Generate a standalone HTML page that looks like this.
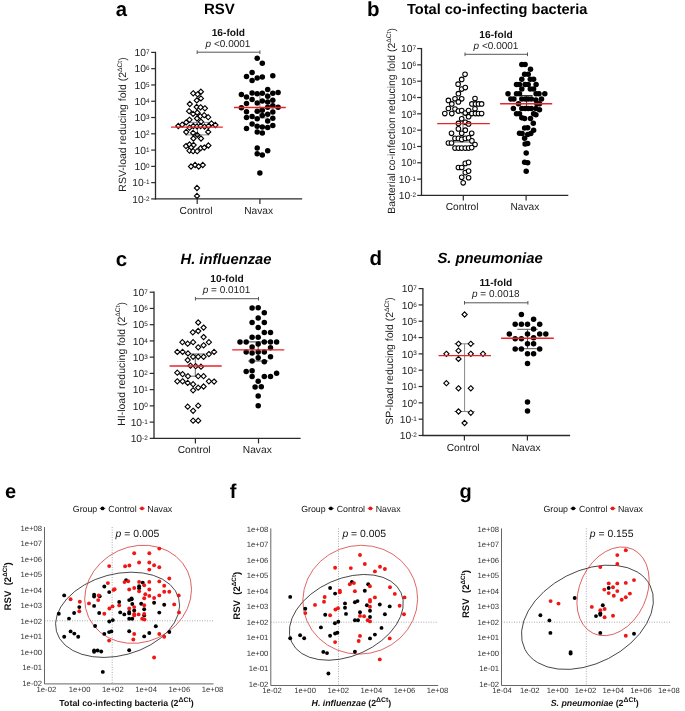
<!DOCTYPE html>
<html><head><meta charset="utf-8"><style>
html,body{margin:0;padding:0;background:#fff;}
svg{display:block;font-family:"Liberation Sans",sans-serif;will-change:transform;text-rendering:geometricPrecision;filter:blur(0.3px);}
</style></head><body>
<svg width="685" height="711" viewBox="0 0 685 711">
<rect width="685" height="711" fill="#fff"/>
<line x1="155.50" y1="51.80" x2="155.50" y2="199.50" stroke="#2a2a2a" stroke-width="1.3" />
<line x1="154.90" y1="198.90" x2="302.20" y2="198.90" stroke="#2a2a2a" stroke-width="1.3" />
<line x1="151.20" y1="52.40" x2="155.50" y2="52.40" stroke="#2a2a2a" stroke-width="1.2" />
<text x="149.50" y="56.10" font-size="10.3" text-anchor="end" font-weight="normal" font-style="normal" fill="#222" >10<tspan dy="-2.1" font-size="6.4">7</tspan></text>
<line x1="151.20" y1="68.68" x2="155.50" y2="68.68" stroke="#2a2a2a" stroke-width="1.2" />
<text x="149.50" y="72.38" font-size="10.3" text-anchor="end" font-weight="normal" font-style="normal" fill="#222" >10<tspan dy="-2.1" font-size="6.4">6</tspan></text>
<line x1="151.20" y1="84.96" x2="155.50" y2="84.96" stroke="#2a2a2a" stroke-width="1.2" />
<text x="149.50" y="88.66" font-size="10.3" text-anchor="end" font-weight="normal" font-style="normal" fill="#222" >10<tspan dy="-2.1" font-size="6.4">5</tspan></text>
<line x1="151.20" y1="101.24" x2="155.50" y2="101.24" stroke="#2a2a2a" stroke-width="1.2" />
<text x="149.50" y="104.94" font-size="10.3" text-anchor="end" font-weight="normal" font-style="normal" fill="#222" >10<tspan dy="-2.1" font-size="6.4">4</tspan></text>
<line x1="151.20" y1="117.52" x2="155.50" y2="117.52" stroke="#2a2a2a" stroke-width="1.2" />
<text x="149.50" y="121.22" font-size="10.3" text-anchor="end" font-weight="normal" font-style="normal" fill="#222" >10<tspan dy="-2.1" font-size="6.4">3</tspan></text>
<line x1="151.20" y1="133.80" x2="155.50" y2="133.80" stroke="#2a2a2a" stroke-width="1.2" />
<text x="149.50" y="137.50" font-size="10.3" text-anchor="end" font-weight="normal" font-style="normal" fill="#222" >10<tspan dy="-2.1" font-size="6.4">2</tspan></text>
<line x1="151.20" y1="150.08" x2="155.50" y2="150.08" stroke="#2a2a2a" stroke-width="1.2" />
<text x="149.50" y="153.78" font-size="10.3" text-anchor="end" font-weight="normal" font-style="normal" fill="#222" >10<tspan dy="-2.1" font-size="6.4">1</tspan></text>
<line x1="151.20" y1="166.36" x2="155.50" y2="166.36" stroke="#2a2a2a" stroke-width="1.2" />
<text x="149.50" y="170.06" font-size="10.3" text-anchor="end" font-weight="normal" font-style="normal" fill="#222" >10<tspan dy="-2.1" font-size="6.4">0</tspan></text>
<line x1="151.20" y1="182.64" x2="155.50" y2="182.64" stroke="#2a2a2a" stroke-width="1.2" />
<text x="149.50" y="186.34" font-size="10.3" text-anchor="end" font-weight="normal" font-style="normal" fill="#222" >10<tspan dy="-2.1" font-size="6.4">-1</tspan></text>
<line x1="151.20" y1="198.92" x2="155.50" y2="198.92" stroke="#2a2a2a" stroke-width="1.2" />
<text x="149.50" y="202.62" font-size="10.3" text-anchor="end" font-weight="normal" font-style="normal" fill="#222" >10<tspan dy="-2.1" font-size="6.4">-2</tspan></text>
<line x1="197.20" y1="198.90" x2="197.20" y2="203.90" stroke="#2a2a2a" stroke-width="1.2" />
<text x="196.00" y="213.90" font-size="10.2" text-anchor="middle" font-weight="normal" font-style="normal" fill="#1a1a1a" >Control</text>
<line x1="259.90" y1="198.90" x2="259.90" y2="203.90" stroke="#2a2a2a" stroke-width="1.2" />
<text x="258.70" y="213.90" font-size="10.2" text-anchor="middle" font-weight="normal" font-style="normal" fill="#1a1a1a" >Navax</text>
<text x="0" y="0" font-size="10.5" text-anchor="middle" fill="#1a1a1a" transform="translate(126.00,124.50) rotate(-90)">RSV-load reducing fold (2<tspan dy="-4.2" font-size="6.7">ΔCt</tspan><tspan dy="4.2">)</tspan></text>
<line x1="197.20" y1="52.20" x2="259.90" y2="52.20" stroke="#555" stroke-width="1.0" />
<line x1="197.20" y1="50.40" x2="197.20" y2="54.00" stroke="#555" stroke-width="1.0" />
<line x1="259.90" y1="50.40" x2="259.90" y2="54.00" stroke="#555" stroke-width="1.0" />
<text x="228.40" y="35.50" font-size="10.2" text-anchor="middle" font-weight="bold" font-style="normal" fill="#111" >16-fold</text>
<text x="228.00" y="46.90" font-size="10" text-anchor="middle" font-weight="normal" font-style="normal" fill="#222" ><tspan font-style="italic">p</tspan> &lt;0.0001</text>
<line x1="421.50" y1="47.95" x2="421.50" y2="196.00" stroke="#2a2a2a" stroke-width="1.3" />
<line x1="420.90" y1="195.40" x2="568.30" y2="195.40" stroke="#2a2a2a" stroke-width="1.3" />
<line x1="417.20" y1="48.55" x2="421.50" y2="48.55" stroke="#2a2a2a" stroke-width="1.2" />
<text x="416.00" y="52.25" font-size="10.3" text-anchor="end" font-weight="normal" font-style="normal" fill="#222" >10<tspan dy="-2.1" font-size="6.4">7</tspan></text>
<line x1="417.20" y1="64.87" x2="421.50" y2="64.87" stroke="#2a2a2a" stroke-width="1.2" />
<text x="416.00" y="68.57" font-size="10.3" text-anchor="end" font-weight="normal" font-style="normal" fill="#222" >10<tspan dy="-2.1" font-size="6.4">6</tspan></text>
<line x1="417.20" y1="81.19" x2="421.50" y2="81.19" stroke="#2a2a2a" stroke-width="1.2" />
<text x="416.00" y="84.89" font-size="10.3" text-anchor="end" font-weight="normal" font-style="normal" fill="#222" >10<tspan dy="-2.1" font-size="6.4">5</tspan></text>
<line x1="417.20" y1="97.51" x2="421.50" y2="97.51" stroke="#2a2a2a" stroke-width="1.2" />
<text x="416.00" y="101.21" font-size="10.3" text-anchor="end" font-weight="normal" font-style="normal" fill="#222" >10<tspan dy="-2.1" font-size="6.4">4</tspan></text>
<line x1="417.20" y1="113.83" x2="421.50" y2="113.83" stroke="#2a2a2a" stroke-width="1.2" />
<text x="416.00" y="117.53" font-size="10.3" text-anchor="end" font-weight="normal" font-style="normal" fill="#222" >10<tspan dy="-2.1" font-size="6.4">3</tspan></text>
<line x1="417.20" y1="130.15" x2="421.50" y2="130.15" stroke="#2a2a2a" stroke-width="1.2" />
<text x="416.00" y="133.85" font-size="10.3" text-anchor="end" font-weight="normal" font-style="normal" fill="#222" >10<tspan dy="-2.1" font-size="6.4">2</tspan></text>
<line x1="417.20" y1="146.47" x2="421.50" y2="146.47" stroke="#2a2a2a" stroke-width="1.2" />
<text x="416.00" y="150.17" font-size="10.3" text-anchor="end" font-weight="normal" font-style="normal" fill="#222" >10<tspan dy="-2.1" font-size="6.4">1</tspan></text>
<line x1="417.20" y1="162.79" x2="421.50" y2="162.79" stroke="#2a2a2a" stroke-width="1.2" />
<text x="416.00" y="166.49" font-size="10.3" text-anchor="end" font-weight="normal" font-style="normal" fill="#222" >10<tspan dy="-2.1" font-size="6.4">0</tspan></text>
<line x1="417.20" y1="179.11" x2="421.50" y2="179.11" stroke="#2a2a2a" stroke-width="1.2" />
<text x="416.00" y="182.81" font-size="10.3" text-anchor="end" font-weight="normal" font-style="normal" fill="#222" >10<tspan dy="-2.1" font-size="6.4">-1</tspan></text>
<line x1="417.20" y1="195.43" x2="421.50" y2="195.43" stroke="#2a2a2a" stroke-width="1.2" />
<text x="416.00" y="199.13" font-size="10.3" text-anchor="end" font-weight="normal" font-style="normal" fill="#222" >10<tspan dy="-2.1" font-size="6.4">-2</tspan></text>
<line x1="463.30" y1="195.40" x2="463.30" y2="200.40" stroke="#2a2a2a" stroke-width="1.2" />
<text x="462.10" y="210.40" font-size="10.2" text-anchor="middle" font-weight="normal" font-style="normal" fill="#1a1a1a" >Control</text>
<line x1="526.10" y1="195.40" x2="526.10" y2="200.40" stroke="#2a2a2a" stroke-width="1.2" />
<text x="524.90" y="210.40" font-size="10.2" text-anchor="middle" font-weight="normal" font-style="normal" fill="#1a1a1a" >Navax</text>
<text x="0" y="0" font-size="10.4" text-anchor="middle" fill="#1a1a1a" transform="translate(394.70,120.90) rotate(-90)">Bacterial co-infection reducing fold (2<tspan dy="-4.2" font-size="6.7">ΔCt</tspan><tspan dy="4.2">)</tspan></text>
<line x1="465.00" y1="54.30" x2="527.50" y2="54.30" stroke="#555" stroke-width="1.0" />
<line x1="465.00" y1="52.50" x2="465.00" y2="56.10" stroke="#555" stroke-width="1.0" />
<line x1="527.50" y1="52.50" x2="527.50" y2="56.10" stroke="#555" stroke-width="1.0" />
<text x="496.00" y="38.00" font-size="10.2" text-anchor="middle" font-weight="bold" font-style="normal" fill="#111" >16-fold</text>
<text x="496.00" y="49.00" font-size="10" text-anchor="middle" font-weight="normal" font-style="normal" fill="#222" ><tspan font-style="italic">p</tspan> &lt;0.0001</text>
<line x1="154.00" y1="291.60" x2="154.00" y2="439.00" stroke="#2a2a2a" stroke-width="1.3" />
<line x1="153.40" y1="438.40" x2="300.60" y2="438.40" stroke="#2a2a2a" stroke-width="1.3" />
<line x1="149.70" y1="292.20" x2="154.00" y2="292.20" stroke="#2a2a2a" stroke-width="1.2" />
<text x="147.80" y="295.90" font-size="10.3" text-anchor="end" font-weight="normal" font-style="normal" fill="#222" >10<tspan dy="-2.1" font-size="6.4">7</tspan></text>
<line x1="149.70" y1="308.44" x2="154.00" y2="308.44" stroke="#2a2a2a" stroke-width="1.2" />
<text x="147.80" y="312.14" font-size="10.3" text-anchor="end" font-weight="normal" font-style="normal" fill="#222" >10<tspan dy="-2.1" font-size="6.4">6</tspan></text>
<line x1="149.70" y1="324.68" x2="154.00" y2="324.68" stroke="#2a2a2a" stroke-width="1.2" />
<text x="147.80" y="328.38" font-size="10.3" text-anchor="end" font-weight="normal" font-style="normal" fill="#222" >10<tspan dy="-2.1" font-size="6.4">5</tspan></text>
<line x1="149.70" y1="340.92" x2="154.00" y2="340.92" stroke="#2a2a2a" stroke-width="1.2" />
<text x="147.80" y="344.62" font-size="10.3" text-anchor="end" font-weight="normal" font-style="normal" fill="#222" >10<tspan dy="-2.1" font-size="6.4">4</tspan></text>
<line x1="149.70" y1="357.16" x2="154.00" y2="357.16" stroke="#2a2a2a" stroke-width="1.2" />
<text x="147.80" y="360.86" font-size="10.3" text-anchor="end" font-weight="normal" font-style="normal" fill="#222" >10<tspan dy="-2.1" font-size="6.4">3</tspan></text>
<line x1="149.70" y1="373.40" x2="154.00" y2="373.40" stroke="#2a2a2a" stroke-width="1.2" />
<text x="147.80" y="377.10" font-size="10.3" text-anchor="end" font-weight="normal" font-style="normal" fill="#222" >10<tspan dy="-2.1" font-size="6.4">2</tspan></text>
<line x1="149.70" y1="389.64" x2="154.00" y2="389.64" stroke="#2a2a2a" stroke-width="1.2" />
<text x="147.80" y="393.34" font-size="10.3" text-anchor="end" font-weight="normal" font-style="normal" fill="#222" >10<tspan dy="-2.1" font-size="6.4">1</tspan></text>
<line x1="149.70" y1="405.88" x2="154.00" y2="405.88" stroke="#2a2a2a" stroke-width="1.2" />
<text x="147.80" y="409.58" font-size="10.3" text-anchor="end" font-weight="normal" font-style="normal" fill="#222" >10<tspan dy="-2.1" font-size="6.4">0</tspan></text>
<line x1="149.70" y1="422.12" x2="154.00" y2="422.12" stroke="#2a2a2a" stroke-width="1.2" />
<text x="147.80" y="425.82" font-size="10.3" text-anchor="end" font-weight="normal" font-style="normal" fill="#222" >10<tspan dy="-2.1" font-size="6.4">-1</tspan></text>
<line x1="149.70" y1="438.36" x2="154.00" y2="438.36" stroke="#2a2a2a" stroke-width="1.2" />
<text x="147.80" y="442.06" font-size="10.3" text-anchor="end" font-weight="normal" font-style="normal" fill="#222" >10<tspan dy="-2.1" font-size="6.4">-2</tspan></text>
<line x1="195.40" y1="438.40" x2="195.40" y2="443.40" stroke="#2a2a2a" stroke-width="1.2" />
<text x="194.20" y="453.40" font-size="10.2" text-anchor="middle" font-weight="normal" font-style="normal" fill="#1a1a1a" >Control</text>
<line x1="258.50" y1="438.40" x2="258.50" y2="443.40" stroke="#2a2a2a" stroke-width="1.2" />
<text x="257.30" y="453.40" font-size="10.2" text-anchor="middle" font-weight="normal" font-style="normal" fill="#1a1a1a" >Navax</text>
<text x="0" y="0" font-size="10.5" text-anchor="middle" fill="#1a1a1a" transform="translate(124.50,363.90) rotate(-90)">HI-load reducing fold (2<tspan dy="-4.2" font-size="6.7">ΔCt</tspan><tspan dy="4.2">)</tspan></text>
<line x1="195.40" y1="298.70" x2="258.50" y2="298.70" stroke="#555" stroke-width="1.0" />
<line x1="195.40" y1="296.90" x2="195.40" y2="300.50" stroke="#555" stroke-width="1.0" />
<line x1="258.50" y1="296.90" x2="258.50" y2="300.50" stroke="#555" stroke-width="1.0" />
<text x="227.00" y="281.50" font-size="10.2" text-anchor="middle" font-weight="bold" font-style="normal" fill="#111" >10-fold</text>
<text x="226.50" y="293.20" font-size="10" text-anchor="middle" font-weight="normal" font-style="normal" fill="#222" ><tspan font-style="italic">p</tspan> = 0.0101</text>
<line x1="422.90" y1="288.00" x2="422.90" y2="436.10" stroke="#2a2a2a" stroke-width="1.3" />
<line x1="422.30" y1="435.50" x2="570.10" y2="435.50" stroke="#2a2a2a" stroke-width="1.3" />
<line x1="418.60" y1="288.60" x2="422.90" y2="288.60" stroke="#2a2a2a" stroke-width="1.2" />
<text x="416.90" y="292.30" font-size="10.3" text-anchor="end" font-weight="normal" font-style="normal" fill="#222" >10<tspan dy="-2.1" font-size="6.4">7</tspan></text>
<line x1="418.60" y1="304.92" x2="422.90" y2="304.92" stroke="#2a2a2a" stroke-width="1.2" />
<text x="416.90" y="308.62" font-size="10.3" text-anchor="end" font-weight="normal" font-style="normal" fill="#222" >10<tspan dy="-2.1" font-size="6.4">6</tspan></text>
<line x1="418.60" y1="321.24" x2="422.90" y2="321.24" stroke="#2a2a2a" stroke-width="1.2" />
<text x="416.90" y="324.94" font-size="10.3" text-anchor="end" font-weight="normal" font-style="normal" fill="#222" >10<tspan dy="-2.1" font-size="6.4">5</tspan></text>
<line x1="418.60" y1="337.56" x2="422.90" y2="337.56" stroke="#2a2a2a" stroke-width="1.2" />
<text x="416.90" y="341.26" font-size="10.3" text-anchor="end" font-weight="normal" font-style="normal" fill="#222" >10<tspan dy="-2.1" font-size="6.4">4</tspan></text>
<line x1="418.60" y1="353.88" x2="422.90" y2="353.88" stroke="#2a2a2a" stroke-width="1.2" />
<text x="416.90" y="357.58" font-size="10.3" text-anchor="end" font-weight="normal" font-style="normal" fill="#222" >10<tspan dy="-2.1" font-size="6.4">3</tspan></text>
<line x1="418.60" y1="370.20" x2="422.90" y2="370.20" stroke="#2a2a2a" stroke-width="1.2" />
<text x="416.90" y="373.90" font-size="10.3" text-anchor="end" font-weight="normal" font-style="normal" fill="#222" >10<tspan dy="-2.1" font-size="6.4">2</tspan></text>
<line x1="418.60" y1="386.52" x2="422.90" y2="386.52" stroke="#2a2a2a" stroke-width="1.2" />
<text x="416.90" y="390.22" font-size="10.3" text-anchor="end" font-weight="normal" font-style="normal" fill="#222" >10<tspan dy="-2.1" font-size="6.4">1</tspan></text>
<line x1="418.60" y1="402.84" x2="422.90" y2="402.84" stroke="#2a2a2a" stroke-width="1.2" />
<text x="416.90" y="406.54" font-size="10.3" text-anchor="end" font-weight="normal" font-style="normal" fill="#222" >10<tspan dy="-2.1" font-size="6.4">0</tspan></text>
<line x1="418.60" y1="419.16" x2="422.90" y2="419.16" stroke="#2a2a2a" stroke-width="1.2" />
<text x="416.90" y="422.86" font-size="10.3" text-anchor="end" font-weight="normal" font-style="normal" fill="#222" >10<tspan dy="-2.1" font-size="6.4">-1</tspan></text>
<line x1="418.60" y1="435.48" x2="422.90" y2="435.48" stroke="#2a2a2a" stroke-width="1.2" />
<text x="416.90" y="439.18" font-size="10.3" text-anchor="end" font-weight="normal" font-style="normal" fill="#222" >10<tspan dy="-2.1" font-size="6.4">-2</tspan></text>
<line x1="464.40" y1="435.50" x2="464.40" y2="440.50" stroke="#2a2a2a" stroke-width="1.2" />
<text x="463.20" y="450.50" font-size="10.2" text-anchor="middle" font-weight="normal" font-style="normal" fill="#1a1a1a" >Control</text>
<line x1="527.40" y1="435.50" x2="527.40" y2="440.50" stroke="#2a2a2a" stroke-width="1.2" />
<text x="526.20" y="450.50" font-size="10.2" text-anchor="middle" font-weight="normal" font-style="normal" fill="#1a1a1a" >Navax</text>
<text x="0" y="0" font-size="10.5" text-anchor="middle" fill="#1a1a1a" transform="translate(393.10,361.00) rotate(-90)">SP-load reducing fold (2<tspan dy="-4.2" font-size="6.7">ΔCt</tspan><tspan dy="4.2">)</tspan></text>
<line x1="464.50" y1="302.80" x2="527.90" y2="302.80" stroke="#555" stroke-width="1.0" />
<line x1="464.50" y1="301.00" x2="464.50" y2="304.60" stroke="#555" stroke-width="1.0" />
<line x1="527.90" y1="301.00" x2="527.90" y2="304.60" stroke="#555" stroke-width="1.0" />
<text x="495.80" y="286.10" font-size="10.2" text-anchor="middle" font-weight="bold" font-style="normal" fill="#111" >11-fold</text>
<text x="495.80" y="297.00" font-size="10" text-anchor="middle" font-weight="normal" font-style="normal" fill="#222" ><tspan font-style="italic">p</tspan> = 0.0018</text>
<text x="115.80" y="16.00" font-size="20.3" text-anchor="start" font-weight="bold" font-style="normal" fill="#000" >a</text>
<text x="219.40" y="14.00" font-size="15" text-anchor="middle" font-weight="bold" font-style="normal" fill="#000" >RSV</text>
<text x="367.00" y="15.50" font-size="20.5" text-anchor="start" font-weight="bold" font-style="normal" fill="#000" >b</text>
<text x="497.20" y="14.00" font-size="14.6" text-anchor="middle" font-weight="bold" font-style="normal" fill="#000" >Total co-infecting bacteria</text>
<text x="115.80" y="265.50" font-size="20.5" text-anchor="start" font-weight="bold" font-style="normal" fill="#000" >c</text>
<text x="180.50" y="263.60" font-size="14.75" text-anchor="start" font-weight="bold" font-style="italic" fill="#000" >H. influenzae</text>
<text x="369.50" y="264.80" font-size="20.5" text-anchor="start" font-weight="bold" font-style="normal" fill="#000" >d</text>
<text x="437.40" y="262.80" font-size="14.8" text-anchor="start" font-weight="bold" font-style="italic" fill="#000" >S. pneumoniae</text>
<line x1="44.50" y1="527.00" x2="44.50" y2="683.90" stroke="#555" stroke-width="0.9" />
<line x1="44.50" y1="683.90" x2="213.50" y2="683.90" stroke="#555" stroke-width="0.9" />
<text x="42.00" y="530.55" font-size="7.7" text-anchor="end" font-weight="normal" font-style="normal" fill="#333" >1e+08</text>
<text x="42.00" y="546.05" font-size="7.7" text-anchor="end" font-weight="normal" font-style="normal" fill="#333" >1e+07</text>
<text x="42.00" y="561.55" font-size="7.7" text-anchor="end" font-weight="normal" font-style="normal" fill="#333" >1e+06</text>
<text x="42.00" y="577.05" font-size="7.7" text-anchor="end" font-weight="normal" font-style="normal" fill="#333" >1e+05</text>
<text x="42.00" y="592.55" font-size="7.7" text-anchor="end" font-weight="normal" font-style="normal" fill="#333" >1e+04</text>
<text x="42.00" y="608.05" font-size="7.7" text-anchor="end" font-weight="normal" font-style="normal" fill="#333" >1e+03</text>
<text x="42.00" y="623.55" font-size="7.7" text-anchor="end" font-weight="normal" font-style="normal" fill="#333" >1e+02</text>
<text x="42.00" y="639.05" font-size="7.7" text-anchor="end" font-weight="normal" font-style="normal" fill="#333" >1e+01</text>
<text x="42.00" y="654.55" font-size="7.7" text-anchor="end" font-weight="normal" font-style="normal" fill="#333" >1e+00</text>
<text x="42.00" y="670.05" font-size="7.7" text-anchor="end" font-weight="normal" font-style="normal" fill="#333" >1e-01</text>
<text x="42.00" y="685.55" font-size="7.7" text-anchor="end" font-weight="normal" font-style="normal" fill="#333" >1e-02</text>
<text x="46.40" y="691.80" font-size="7.7" text-anchor="middle" font-weight="normal" font-style="normal" fill="#333" >1e-02</text>
<text x="79.64" y="691.80" font-size="7.7" text-anchor="middle" font-weight="normal" font-style="normal" fill="#333" >1e+00</text>
<text x="112.88" y="691.80" font-size="7.7" text-anchor="middle" font-weight="normal" font-style="normal" fill="#333" >1e+02</text>
<text x="146.12" y="691.80" font-size="7.7" text-anchor="middle" font-weight="normal" font-style="normal" fill="#333" >1e+04</text>
<text x="179.36" y="691.80" font-size="7.7" text-anchor="middle" font-weight="normal" font-style="normal" fill="#333" >1e+06</text>
<text x="212.60" y="691.80" font-size="7.7" text-anchor="middle" font-weight="normal" font-style="normal" fill="#333" >1e+08</text>
<line x1="112.20" y1="527.00" x2="112.20" y2="683.90" stroke="#888" stroke-width="0.7" stroke-dasharray="1,1.5"/>
<line x1="44.50" y1="620.80" x2="213.50" y2="620.80" stroke="#888" stroke-width="0.7" stroke-dasharray="1,1.5"/>
<text x="5.00" y="498.40" font-size="20" text-anchor="start" font-weight="bold" font-style="normal" fill="#000" >e</text>
<text x="72.80" y="511.50" font-size="8.8" text-anchor="start" font-weight="normal" font-style="normal" fill="#111" >Group</text>
<text x="108.30" y="511.50" font-size="8.8" text-anchor="start" font-weight="normal" font-style="normal" fill="#111" >Control</text>
<text x="147.30" y="511.50" font-size="8.8" text-anchor="start" font-weight="normal" font-style="normal" fill="#111" >Navax</text>
<circle cx="102.50" cy="508.4" r="1.9" fill="#000"/>
<line x1="99.80" y1="508.40" x2="105.30" y2="508.40" stroke="#000" stroke-width="0.8" />
<circle cx="142.00" cy="508.4" r="1.9" fill="#e41a1c"/>
<line x1="139.30" y1="508.40" x2="144.80" y2="508.40" stroke="#e41a1c" stroke-width="0.8" />
<text x="115.60" y="536.50" font-size="10.4" text-anchor="start" font-weight="normal" font-style="normal" fill="#111" ><tspan font-style="italic">p</tspan> = 0.005</text>
<text x="0" y="0" font-size="9.6" font-weight="bold" text-anchor="middle" fill="#111" transform="translate(11.20,586.40) rotate(-90)">RSV&#160; (2<tspan dy="-4" font-size="6.3">ΔCt</tspan><tspan dy="4">)</tspan></text>
<text x="126.50" y="706.30" font-size="8.8" text-anchor="middle" font-weight="bold" font-style="normal" fill="#111" >Total co-infecting bacteria (2<tspan dy="-4.2" font-size="6.9">ΔCt</tspan><tspan dy="4.2">)</tspan></text>
<line x1="270.80" y1="528.40" x2="270.80" y2="685.50" stroke="#555" stroke-width="0.9" />
<line x1="270.80" y1="685.50" x2="438.20" y2="685.50" stroke="#555" stroke-width="0.9" />
<text x="268.30" y="531.95" font-size="7.7" text-anchor="end" font-weight="normal" font-style="normal" fill="#333" >1e+08</text>
<text x="268.30" y="547.45" font-size="7.7" text-anchor="end" font-weight="normal" font-style="normal" fill="#333" >1e+07</text>
<text x="268.30" y="562.95" font-size="7.7" text-anchor="end" font-weight="normal" font-style="normal" fill="#333" >1e+06</text>
<text x="268.30" y="578.45" font-size="7.7" text-anchor="end" font-weight="normal" font-style="normal" fill="#333" >1e+05</text>
<text x="268.30" y="593.95" font-size="7.7" text-anchor="end" font-weight="normal" font-style="normal" fill="#333" >1e+04</text>
<text x="268.30" y="609.45" font-size="7.7" text-anchor="end" font-weight="normal" font-style="normal" fill="#333" >1e+03</text>
<text x="268.30" y="624.95" font-size="7.7" text-anchor="end" font-weight="normal" font-style="normal" fill="#333" >1e+02</text>
<text x="268.30" y="640.45" font-size="7.7" text-anchor="end" font-weight="normal" font-style="normal" fill="#333" >1e+01</text>
<text x="268.30" y="655.95" font-size="7.7" text-anchor="end" font-weight="normal" font-style="normal" fill="#333" >1e+00</text>
<text x="268.30" y="671.45" font-size="7.7" text-anchor="end" font-weight="normal" font-style="normal" fill="#333" >1e-01</text>
<text x="268.30" y="686.95" font-size="7.7" text-anchor="end" font-weight="normal" font-style="normal" fill="#333" >1e-02</text>
<text x="272.00" y="693.40" font-size="7.7" text-anchor="middle" font-weight="normal" font-style="normal" fill="#333" >1e-02</text>
<text x="305.12" y="693.40" font-size="7.7" text-anchor="middle" font-weight="normal" font-style="normal" fill="#333" >1e+00</text>
<text x="338.24" y="693.40" font-size="7.7" text-anchor="middle" font-weight="normal" font-style="normal" fill="#333" >1e+02</text>
<text x="371.36" y="693.40" font-size="7.7" text-anchor="middle" font-weight="normal" font-style="normal" fill="#333" >1e+04</text>
<text x="404.48" y="693.40" font-size="7.7" text-anchor="middle" font-weight="normal" font-style="normal" fill="#333" >1e+06</text>
<text x="437.60" y="693.40" font-size="7.7" text-anchor="middle" font-weight="normal" font-style="normal" fill="#333" >1e+08</text>
<line x1="338.50" y1="528.40" x2="338.50" y2="685.50" stroke="#888" stroke-width="0.7" stroke-dasharray="1,1.5"/>
<line x1="270.80" y1="622.20" x2="438.20" y2="622.20" stroke="#888" stroke-width="0.7" stroke-dasharray="1,1.5"/>
<text x="229.80" y="498.40" font-size="20" text-anchor="start" font-weight="bold" font-style="normal" fill="#000" >f</text>
<text x="301.20" y="511.50" font-size="8.8" text-anchor="start" font-weight="normal" font-style="normal" fill="#111" >Group</text>
<text x="336.70" y="511.50" font-size="8.8" text-anchor="start" font-weight="normal" font-style="normal" fill="#111" >Control</text>
<text x="375.70" y="511.50" font-size="8.8" text-anchor="start" font-weight="normal" font-style="normal" fill="#111" >Navax</text>
<circle cx="330.90" cy="508.4" r="1.9" fill="#000"/>
<line x1="328.20" y1="508.40" x2="333.70" y2="508.40" stroke="#000" stroke-width="0.8" />
<circle cx="370.40" cy="508.4" r="1.9" fill="#e41a1c"/>
<line x1="367.70" y1="508.40" x2="373.20" y2="508.40" stroke="#e41a1c" stroke-width="0.8" />
<text x="342.40" y="536.50" font-size="10.4" text-anchor="start" font-weight="normal" font-style="normal" fill="#111" ><tspan font-style="italic">p</tspan> = 0.005</text>
<text x="0" y="0" font-size="9.6" font-weight="bold" text-anchor="middle" fill="#111" transform="translate(240.20,595.80) rotate(-90)">RSV&#160; (2<tspan dy="-4" font-size="6.3">ΔCt</tspan><tspan dy="4">)</tspan></text>
<text x="351.40" y="706.30" font-size="8.8" text-anchor="middle" font-weight="bold" font-style="normal" fill="#111" ><tspan font-style="italic">H. influenzae</tspan> (2<tspan dy="-4.2" font-size="6.9">ΔCt</tspan><tspan dy="4.2">)</tspan></text>
<line x1="501.50" y1="528.40" x2="501.50" y2="685.50" stroke="#555" stroke-width="0.9" />
<line x1="501.50" y1="685.50" x2="670.50" y2="685.50" stroke="#555" stroke-width="0.9" />
<text x="499.00" y="531.95" font-size="7.7" text-anchor="end" font-weight="normal" font-style="normal" fill="#333" >1e+08</text>
<text x="499.00" y="547.45" font-size="7.7" text-anchor="end" font-weight="normal" font-style="normal" fill="#333" >1e+07</text>
<text x="499.00" y="562.95" font-size="7.7" text-anchor="end" font-weight="normal" font-style="normal" fill="#333" >1e+06</text>
<text x="499.00" y="578.45" font-size="7.7" text-anchor="end" font-weight="normal" font-style="normal" fill="#333" >1e+05</text>
<text x="499.00" y="593.95" font-size="7.7" text-anchor="end" font-weight="normal" font-style="normal" fill="#333" >1e+04</text>
<text x="499.00" y="609.45" font-size="7.7" text-anchor="end" font-weight="normal" font-style="normal" fill="#333" >1e+03</text>
<text x="499.00" y="624.95" font-size="7.7" text-anchor="end" font-weight="normal" font-style="normal" fill="#333" >1e+02</text>
<text x="499.00" y="640.45" font-size="7.7" text-anchor="end" font-weight="normal" font-style="normal" fill="#333" >1e+01</text>
<text x="499.00" y="655.95" font-size="7.7" text-anchor="end" font-weight="normal" font-style="normal" fill="#333" >1e+00</text>
<text x="499.00" y="671.45" font-size="7.7" text-anchor="end" font-weight="normal" font-style="normal" fill="#333" >1e-01</text>
<text x="499.00" y="686.95" font-size="7.7" text-anchor="end" font-weight="normal" font-style="normal" fill="#333" >1e-02</text>
<text x="502.00" y="693.40" font-size="7.7" text-anchor="middle" font-weight="normal" font-style="normal" fill="#333" >1e-04</text>
<text x="529.82" y="693.40" font-size="7.7" text-anchor="middle" font-weight="normal" font-style="normal" fill="#333" >1e-02</text>
<text x="557.63" y="693.40" font-size="7.7" text-anchor="middle" font-weight="normal" font-style="normal" fill="#333" >1e+00</text>
<text x="585.45" y="693.40" font-size="7.7" text-anchor="middle" font-weight="normal" font-style="normal" fill="#333" >1e+02</text>
<text x="613.27" y="693.40" font-size="7.7" text-anchor="middle" font-weight="normal" font-style="normal" fill="#333" >1e+04</text>
<text x="641.08" y="693.40" font-size="7.7" text-anchor="middle" font-weight="normal" font-style="normal" fill="#333" >1e+06</text>
<text x="668.90" y="693.40" font-size="7.7" text-anchor="middle" font-weight="normal" font-style="normal" fill="#333" >1e+08</text>
<line x1="586.30" y1="528.40" x2="586.30" y2="685.50" stroke="#888" stroke-width="0.7" stroke-dasharray="1,1.5"/>
<line x1="501.50" y1="622.20" x2="670.50" y2="622.20" stroke="#888" stroke-width="0.7" stroke-dasharray="1,1.5"/>
<text x="459.50" y="498.40" font-size="20" text-anchor="start" font-weight="bold" font-style="normal" fill="#000" >g</text>
<text x="543.50" y="511.50" font-size="8.8" text-anchor="start" font-weight="normal" font-style="normal" fill="#111" >Group</text>
<text x="579.00" y="511.50" font-size="8.8" text-anchor="start" font-weight="normal" font-style="normal" fill="#111" >Control</text>
<text x="618.00" y="511.50" font-size="8.8" text-anchor="start" font-weight="normal" font-style="normal" fill="#111" >Navax</text>
<circle cx="573.20" cy="508.4" r="1.9" fill="#000"/>
<line x1="570.50" y1="508.40" x2="576.00" y2="508.40" stroke="#000" stroke-width="0.8" />
<circle cx="612.70" cy="508.4" r="1.9" fill="#e41a1c"/>
<line x1="610.00" y1="508.40" x2="615.50" y2="508.40" stroke="#e41a1c" stroke-width="0.8" />
<text x="589.80" y="536.50" font-size="10.4" text-anchor="start" font-weight="normal" font-style="normal" fill="#111" ><tspan font-style="italic">p</tspan> = 0.155</text>
<text x="0" y="0" font-size="9.6" font-weight="bold" text-anchor="middle" fill="#111" transform="translate(469.00,594.10) rotate(-90)">RSV&#160; (2<tspan dy="-4" font-size="6.3">ΔCt</tspan><tspan dy="4">)</tspan></text>
<text x="594.70" y="706.30" font-size="8.8" text-anchor="middle" font-weight="bold" font-style="normal" fill="#111" ><tspan font-style="italic">S. pneumoniae</tspan> (2<tspan dy="-4.2" font-size="6.9">ΔCt</tspan><tspan dy="4.2">)</tspan></text>
<line x1="197.50" y1="122.40" x2="197.50" y2="134.90" stroke="#888" stroke-width="1.0" />
<line x1="185.50" y1="122.40" x2="209.50" y2="122.40" stroke="#888" stroke-width="1.0" />
<line x1="185.50" y1="134.90" x2="209.50" y2="134.90" stroke="#888" stroke-width="1.0" />
<line x1="259.90" y1="94.00" x2="259.90" y2="118.00" stroke="#888" stroke-width="1.0" />
<line x1="251.40" y1="94.00" x2="268.40" y2="94.00" stroke="#888" stroke-width="1.0" />
<line x1="251.40" y1="118.00" x2="268.40" y2="118.00" stroke="#888" stroke-width="1.0" />
<path d="M193.20 90.70L195.80 93.30L193.20 95.90L190.60 93.30Z" fill="#fff" stroke="#000" stroke-width="1.1"/>
<path d="M200.90 89.15L203.50 91.75L200.90 94.35L198.30 91.75Z" fill="#fff" stroke="#000" stroke-width="1.1"/>
<path d="M197.60 91.70L200.20 94.30L197.60 96.90L195.00 94.30Z" fill="#fff" stroke="#000" stroke-width="1.1"/>
<path d="M200.90 95.80L203.50 98.40L200.90 101.00L198.30 98.40Z" fill="#fff" stroke="#000" stroke-width="1.1"/>
<path d="M196.80 97.80L199.40 100.40L196.80 103.00L194.20 100.40Z" fill="#fff" stroke="#000" stroke-width="1.1"/>
<path d="M189.80 101.40L192.40 104.00L189.80 106.60L187.20 104.00Z" fill="#fff" stroke="#000" stroke-width="1.1"/>
<path d="M196.70 104.40L199.30 107.00L196.70 109.60L194.10 107.00Z" fill="#fff" stroke="#000" stroke-width="1.1"/>
<path d="M200.60 104.70L203.20 107.30L200.60 109.90L198.00 107.30Z" fill="#fff" stroke="#000" stroke-width="1.1"/>
<path d="M204.90 105.70L207.50 108.30L204.90 110.90L202.30 108.30Z" fill="#fff" stroke="#000" stroke-width="1.1"/>
<path d="M189.10 108.60L191.70 111.20L189.10 113.80L186.50 111.20Z" fill="#fff" stroke="#000" stroke-width="1.1"/>
<path d="M193.10 111.30L195.70 113.90L193.10 116.50L190.50 113.90Z" fill="#fff" stroke="#000" stroke-width="1.1"/>
<path d="M197.30 110.00L199.90 112.60L197.30 115.20L194.70 112.60Z" fill="#fff" stroke="#000" stroke-width="1.1"/>
<path d="M200.30 113.60L202.90 116.20L200.30 118.80L197.70 116.20Z" fill="#fff" stroke="#000" stroke-width="1.1"/>
<path d="M204.20 112.60L206.80 115.20L204.20 117.80L201.60 115.20Z" fill="#fff" stroke="#000" stroke-width="1.1"/>
<path d="M208.20 114.60L210.80 117.20L208.20 119.80L205.60 117.20Z" fill="#fff" stroke="#000" stroke-width="1.1"/>
<path d="M197.00 115.90L199.60 118.50L197.00 121.10L194.40 118.50Z" fill="#fff" stroke="#000" stroke-width="1.1"/>
<path d="M189.50 117.20L192.10 119.80L189.50 122.40L186.90 119.80Z" fill="#fff" stroke="#000" stroke-width="1.1"/>
<path d="M186.20 119.80L188.80 122.40L186.20 125.00L183.60 122.40Z" fill="#fff" stroke="#000" stroke-width="1.1"/>
<path d="M201.00 119.20L203.60 121.80L201.00 124.40L198.40 121.80Z" fill="#fff" stroke="#000" stroke-width="1.1"/>
<path d="M211.50 120.80L214.10 123.40L211.50 126.00L208.90 123.40Z" fill="#fff" stroke="#000" stroke-width="1.1"/>
<path d="M215.40 122.40L218.00 125.00L215.40 127.60L212.80 125.00Z" fill="#fff" stroke="#000" stroke-width="1.1"/>
<path d="M178.30 123.40L180.90 126.00L178.30 128.60L175.70 126.00Z" fill="#fff" stroke="#000" stroke-width="1.1"/>
<path d="M182.20 122.10L184.80 124.70L182.20 127.30L179.60 124.70Z" fill="#fff" stroke="#000" stroke-width="1.1"/>
<path d="M193.40 123.40L196.00 126.00L193.40 128.60L190.80 126.00Z" fill="#fff" stroke="#000" stroke-width="1.1"/>
<path d="M197.00 123.80L199.60 126.40L197.00 129.00L194.40 126.40Z" fill="#fff" stroke="#000" stroke-width="1.1"/>
<path d="M200.60 123.40L203.20 126.00L200.60 128.60L198.00 126.00Z" fill="#fff" stroke="#000" stroke-width="1.1"/>
<path d="M204.60 124.10L207.20 126.70L204.60 129.30L202.00 126.70Z" fill="#fff" stroke="#000" stroke-width="1.1"/>
<path d="M208.50 123.40L211.10 126.00L208.50 128.60L205.90 126.00Z" fill="#fff" stroke="#000" stroke-width="1.1"/>
<path d="M189.50 125.10L192.10 127.70L189.50 130.30L186.90 127.70Z" fill="#fff" stroke="#000" stroke-width="1.1"/>
<path d="M186.20 129.40L188.80 132.00L186.20 134.60L183.60 132.00Z" fill="#fff" stroke="#000" stroke-width="1.1"/>
<path d="M193.10 130.30L195.70 132.90L193.10 135.50L190.50 132.90Z" fill="#fff" stroke="#000" stroke-width="1.1"/>
<path d="M208.20 129.30L210.80 131.90L208.20 134.50L205.60 131.90Z" fill="#fff" stroke="#000" stroke-width="1.1"/>
<path d="M193.40 135.90L196.00 138.50L193.40 141.10L190.80 138.50Z" fill="#fff" stroke="#000" stroke-width="1.1"/>
<path d="M201.00 135.90L203.60 138.50L201.00 141.10L198.40 138.50Z" fill="#fff" stroke="#000" stroke-width="1.1"/>
<path d="M186.00 143.50L188.60 146.10L186.00 148.70L183.40 146.10Z" fill="#fff" stroke="#000" stroke-width="1.1"/>
<path d="M189.50 141.90L192.10 144.50L189.50 147.10L186.90 144.50Z" fill="#fff" stroke="#000" stroke-width="1.1"/>
<path d="M193.60 142.40L196.20 145.00L193.60 147.60L191.00 145.00Z" fill="#fff" stroke="#000" stroke-width="1.1"/>
<path d="M191.00 145.00L193.60 147.60L191.00 150.20L188.40 147.60Z" fill="#fff" stroke="#000" stroke-width="1.1"/>
<path d="M189.50 148.10L192.10 150.70L189.50 153.30L186.90 150.70Z" fill="#fff" stroke="#000" stroke-width="1.1"/>
<path d="M193.10 148.60L195.70 151.20L193.10 153.80L190.50 151.20Z" fill="#fff" stroke="#000" stroke-width="1.1"/>
<path d="M197.20 148.60L199.80 151.20L197.20 153.80L194.60 151.20Z" fill="#fff" stroke="#000" stroke-width="1.1"/>
<path d="M200.80 145.50L203.40 148.10L200.80 150.70L198.20 148.10Z" fill="#fff" stroke="#000" stroke-width="1.1"/>
<path d="M204.30 145.00L206.90 147.60L204.30 150.20L201.70 147.60Z" fill="#fff" stroke="#000" stroke-width="1.1"/>
<path d="M208.40 142.90L211.00 145.50L208.40 148.10L205.80 145.50Z" fill="#fff" stroke="#000" stroke-width="1.1"/>
<path d="M191.00 163.90L193.60 166.50L191.00 169.10L188.40 166.50Z" fill="#fff" stroke="#000" stroke-width="1.1"/>
<path d="M195.10 162.40L197.70 165.00L195.10 167.60L192.50 165.00Z" fill="#fff" stroke="#000" stroke-width="1.1"/>
<path d="M198.70 163.90L201.30 166.50L198.70 169.10L196.10 166.50Z" fill="#fff" stroke="#000" stroke-width="1.1"/>
<path d="M202.80 162.40L205.40 165.00L202.80 167.60L200.20 165.00Z" fill="#fff" stroke="#000" stroke-width="1.1"/>
<path d="M197.00 185.40L199.60 188.00L197.00 190.60L194.40 188.00Z" fill="#fff" stroke="#000" stroke-width="1.1"/>
<path d="M197.00 193.30L199.60 195.90L197.00 198.50L194.40 195.90Z" fill="#fff" stroke="#000" stroke-width="1.1"/>
<path d="M197.30 132.30L199.90 134.90L197.30 137.50L194.70 134.90Z" fill="#888" stroke="#000" stroke-width="1.1"/>
<circle cx="257.20" cy="58.20" r="2.75" fill="#000"/>
<circle cx="262.30" cy="63.30" r="2.75" fill="#000"/>
<circle cx="252.10" cy="72.50" r="2.75" fill="#000"/>
<circle cx="246.50" cy="76.60" r="2.75" fill="#000"/>
<circle cx="252.10" cy="80.50" r="2.75" fill="#000"/>
<circle cx="257.20" cy="78.10" r="2.75" fill="#000"/>
<circle cx="262.30" cy="77.10" r="2.75" fill="#000"/>
<circle cx="272.80" cy="75.80" r="2.75" fill="#000"/>
<circle cx="241.40" cy="94.50" r="2.75" fill="#000"/>
<circle cx="246.50" cy="97.00" r="2.75" fill="#000"/>
<circle cx="252.10" cy="92.90" r="2.75" fill="#000"/>
<circle cx="257.20" cy="93.70" r="2.75" fill="#000"/>
<circle cx="262.30" cy="93.20" r="2.75" fill="#000"/>
<circle cx="267.70" cy="89.60" r="2.75" fill="#000"/>
<circle cx="267.70" cy="96.20" r="2.75" fill="#000"/>
<circle cx="272.80" cy="93.20" r="2.75" fill="#000"/>
<circle cx="278.10" cy="92.40" r="2.75" fill="#000"/>
<circle cx="252.10" cy="99.60" r="2.75" fill="#000"/>
<circle cx="246.50" cy="103.60" r="2.75" fill="#000"/>
<circle cx="257.20" cy="103.10" r="2.75" fill="#000"/>
<circle cx="262.30" cy="101.10" r="2.75" fill="#000"/>
<circle cx="267.70" cy="102.10" r="2.75" fill="#000"/>
<circle cx="272.80" cy="100.30" r="2.75" fill="#000"/>
<circle cx="241.40" cy="107.70" r="2.75" fill="#000"/>
<circle cx="267.70" cy="107.20" r="2.75" fill="#000"/>
<circle cx="272.80" cy="105.70" r="2.75" fill="#000"/>
<circle cx="278.10" cy="107.20" r="2.75" fill="#000"/>
<circle cx="246.50" cy="111.80" r="2.75" fill="#000"/>
<circle cx="257.20" cy="111.30" r="2.75" fill="#000"/>
<circle cx="262.30" cy="110.30" r="2.75" fill="#000"/>
<circle cx="267.70" cy="114.20" r="2.75" fill="#000"/>
<circle cx="272.80" cy="112.10" r="2.75" fill="#000"/>
<circle cx="246.50" cy="117.40" r="2.75" fill="#000"/>
<circle cx="252.10" cy="116.40" r="2.75" fill="#000"/>
<circle cx="257.20" cy="118.70" r="2.75" fill="#000"/>
<circle cx="262.30" cy="115.40" r="2.75" fill="#000"/>
<circle cx="272.80" cy="118.30" r="2.75" fill="#000"/>
<circle cx="267.70" cy="121.00" r="2.75" fill="#000"/>
<circle cx="252.10" cy="124.10" r="2.75" fill="#000"/>
<circle cx="246.50" cy="128.40" r="2.75" fill="#000"/>
<circle cx="257.20" cy="126.30" r="2.75" fill="#000"/>
<circle cx="262.30" cy="126.90" r="2.75" fill="#000"/>
<circle cx="267.70" cy="127.60" r="2.75" fill="#000"/>
<circle cx="272.80" cy="125.50" r="2.75" fill="#000"/>
<circle cx="257.20" cy="132.00" r="2.75" fill="#000"/>
<circle cx="262.30" cy="133.00" r="2.75" fill="#000"/>
<circle cx="257.20" cy="148.00" r="2.75" fill="#000"/>
<circle cx="267.70" cy="150.70" r="2.75" fill="#000"/>
<circle cx="257.20" cy="153.70" r="2.75" fill="#000"/>
<circle cx="262.30" cy="155.00" r="2.75" fill="#000"/>
<circle cx="259.85" cy="172.90" r="2.75" fill="#000"/>
<line x1="171.00" y1="127.10" x2="222.80" y2="127.10" stroke="#e8242a" stroke-width="1.4" />
<line x1="234.00" y1="107.50" x2="285.80" y2="107.50" stroke="#e8242a" stroke-width="1.4" />
<line x1="463.00" y1="113.50" x2="463.00" y2="142.00" stroke="#555" stroke-width="0.9" />
<line x1="454.00" y1="142.00" x2="472.00" y2="142.00" stroke="#555" stroke-width="0.9" />
<line x1="526.60" y1="95.50" x2="526.60" y2="110.00" stroke="#333" stroke-width="1.0" />
<line x1="520.60" y1="95.50" x2="532.60" y2="95.50" stroke="#333" stroke-width="1.0" />
<line x1="520.60" y1="110.00" x2="532.60" y2="110.00" stroke="#333" stroke-width="1.0" />
<circle cx="465.05" cy="74.30" r="2.3" fill="#fff" stroke="#000" stroke-width="1.05"/>
<circle cx="461.70" cy="79.40" r="2.3" fill="#fff" stroke="#000" stroke-width="1.05"/>
<circle cx="458.10" cy="84.20" r="2.3" fill="#fff" stroke="#000" stroke-width="1.05"/>
<circle cx="461.70" cy="89.10" r="2.3" fill="#fff" stroke="#000" stroke-width="1.05"/>
<circle cx="465.30" cy="87.60" r="2.3" fill="#fff" stroke="#000" stroke-width="1.05"/>
<circle cx="458.40" cy="93.70" r="2.3" fill="#fff" stroke="#000" stroke-width="1.05"/>
<circle cx="455.00" cy="98.80" r="2.3" fill="#fff" stroke="#000" stroke-width="1.05"/>
<circle cx="461.70" cy="98.80" r="2.3" fill="#fff" stroke="#000" stroke-width="1.05"/>
<circle cx="448.40" cy="100.40" r="2.3" fill="#fff" stroke="#000" stroke-width="1.05"/>
<circle cx="458.40" cy="101.90" r="2.3" fill="#fff" stroke="#000" stroke-width="1.05"/>
<circle cx="451.80" cy="103.90" r="2.3" fill="#fff" stroke="#000" stroke-width="1.05"/>
<circle cx="448.40" cy="108.50" r="2.3" fill="#fff" stroke="#000" stroke-width="1.05"/>
<circle cx="455.00" cy="109.00" r="2.3" fill="#fff" stroke="#000" stroke-width="1.05"/>
<circle cx="458.40" cy="111.10" r="2.3" fill="#fff" stroke="#000" stroke-width="1.05"/>
<circle cx="461.70" cy="110.60" r="2.3" fill="#fff" stroke="#000" stroke-width="1.05"/>
<circle cx="444.80" cy="113.60" r="2.3" fill="#fff" stroke="#000" stroke-width="1.05"/>
<circle cx="451.80" cy="113.60" r="2.3" fill="#fff" stroke="#000" stroke-width="1.05"/>
<circle cx="465.30" cy="113.10" r="2.3" fill="#fff" stroke="#000" stroke-width="1.05"/>
<circle cx="468.60" cy="110.60" r="2.3" fill="#fff" stroke="#000" stroke-width="1.05"/>
<circle cx="468.60" cy="116.70" r="2.3" fill="#fff" stroke="#000" stroke-width="1.05"/>
<circle cx="475.00" cy="98.60" r="2.3" fill="#fff" stroke="#000" stroke-width="1.05"/>
<circle cx="471.90" cy="103.90" r="2.3" fill="#fff" stroke="#000" stroke-width="1.05"/>
<circle cx="475.50" cy="103.90" r="2.3" fill="#fff" stroke="#000" stroke-width="1.05"/>
<circle cx="478.50" cy="103.90" r="2.3" fill="#fff" stroke="#000" stroke-width="1.05"/>
<circle cx="481.60" cy="103.90" r="2.3" fill="#fff" stroke="#000" stroke-width="1.05"/>
<circle cx="475.00" cy="108.80" r="2.3" fill="#fff" stroke="#000" stroke-width="1.05"/>
<circle cx="471.90" cy="113.60" r="2.3" fill="#fff" stroke="#000" stroke-width="1.05"/>
<circle cx="475.50" cy="113.60" r="2.3" fill="#fff" stroke="#000" stroke-width="1.05"/>
<circle cx="478.50" cy="113.60" r="2.3" fill="#fff" stroke="#000" stroke-width="1.05"/>
<circle cx="481.60" cy="113.60" r="2.3" fill="#fff" stroke="#000" stroke-width="1.05"/>
<circle cx="461.70" cy="118.80" r="2.3" fill="#fff" stroke="#000" stroke-width="1.05"/>
<circle cx="458.40" cy="123.40" r="2.3" fill="#fff" stroke="#000" stroke-width="1.05"/>
<circle cx="465.30" cy="122.30" r="2.3" fill="#fff" stroke="#000" stroke-width="1.05"/>
<circle cx="468.60" cy="123.90" r="2.3" fill="#fff" stroke="#000" stroke-width="1.05"/>
<circle cx="458.40" cy="128.90" r="2.3" fill="#fff" stroke="#000" stroke-width="1.05"/>
<circle cx="465.30" cy="130.20" r="2.3" fill="#fff" stroke="#000" stroke-width="1.05"/>
<circle cx="461.70" cy="133.30" r="2.3" fill="#fff" stroke="#000" stroke-width="1.05"/>
<circle cx="451.50" cy="133.30" r="2.3" fill="#fff" stroke="#000" stroke-width="1.05"/>
<circle cx="471.70" cy="133.30" r="2.3" fill="#fff" stroke="#000" stroke-width="1.05"/>
<circle cx="455.00" cy="138.40" r="2.3" fill="#fff" stroke="#000" stroke-width="1.05"/>
<circle cx="458.40" cy="138.40" r="2.3" fill="#fff" stroke="#000" stroke-width="1.05"/>
<circle cx="461.70" cy="139.40" r="2.3" fill="#fff" stroke="#000" stroke-width="1.05"/>
<circle cx="465.30" cy="138.40" r="2.3" fill="#fff" stroke="#000" stroke-width="1.05"/>
<circle cx="468.60" cy="137.90" r="2.3" fill="#fff" stroke="#000" stroke-width="1.05"/>
<circle cx="471.90" cy="140.90" r="2.3" fill="#fff" stroke="#000" stroke-width="1.05"/>
<circle cx="448.40" cy="143.00" r="2.3" fill="#fff" stroke="#000" stroke-width="1.05"/>
<circle cx="451.50" cy="143.00" r="2.3" fill="#fff" stroke="#000" stroke-width="1.05"/>
<circle cx="475.00" cy="144.50" r="2.3" fill="#fff" stroke="#000" stroke-width="1.05"/>
<circle cx="455.00" cy="148.10" r="2.3" fill="#fff" stroke="#000" stroke-width="1.05"/>
<circle cx="458.40" cy="148.10" r="2.3" fill="#fff" stroke="#000" stroke-width="1.05"/>
<circle cx="461.70" cy="148.10" r="2.3" fill="#fff" stroke="#000" stroke-width="1.05"/>
<circle cx="465.30" cy="148.10" r="2.3" fill="#fff" stroke="#000" stroke-width="1.05"/>
<circle cx="468.60" cy="148.10" r="2.3" fill="#fff" stroke="#000" stroke-width="1.05"/>
<circle cx="471.70" cy="147.60" r="2.3" fill="#fff" stroke="#000" stroke-width="1.05"/>
<circle cx="465.30" cy="163.40" r="2.3" fill="#fff" stroke="#000" stroke-width="1.05"/>
<circle cx="468.60" cy="162.40" r="2.3" fill="#fff" stroke="#000" stroke-width="1.05"/>
<circle cx="458.40" cy="167.50" r="2.3" fill="#fff" stroke="#000" stroke-width="1.05"/>
<circle cx="461.70" cy="167.50" r="2.3" fill="#fff" stroke="#000" stroke-width="1.05"/>
<circle cx="465.30" cy="172.60" r="2.3" fill="#fff" stroke="#000" stroke-width="1.05"/>
<circle cx="468.60" cy="171.10" r="2.3" fill="#fff" stroke="#000" stroke-width="1.05"/>
<circle cx="461.70" cy="177.20" r="2.3" fill="#fff" stroke="#000" stroke-width="1.05"/>
<circle cx="468.60" cy="177.70" r="2.3" fill="#fff" stroke="#000" stroke-width="1.05"/>
<circle cx="463.20" cy="182.80" r="2.3" fill="#fff" stroke="#000" stroke-width="1.05"/>
<circle cx="521.80" cy="64.50" r="2.75" fill="#000"/>
<circle cx="525.10" cy="64.50" r="2.75" fill="#000"/>
<circle cx="530.50" cy="69.30" r="2.75" fill="#000"/>
<circle cx="524.60" cy="74.20" r="2.75" fill="#000"/>
<circle cx="528.20" cy="74.20" r="2.75" fill="#000"/>
<circle cx="521.80" cy="79.20" r="2.75" fill="#000"/>
<circle cx="530.30" cy="79.20" r="2.75" fill="#000"/>
<circle cx="533.60" cy="79.20" r="2.75" fill="#000"/>
<circle cx="516.50" cy="84.40" r="2.75" fill="#000"/>
<circle cx="519.50" cy="84.40" r="2.75" fill="#000"/>
<circle cx="525.10" cy="84.40" r="2.75" fill="#000"/>
<circle cx="528.20" cy="84.40" r="2.75" fill="#000"/>
<circle cx="536.10" cy="84.40" r="2.75" fill="#000"/>
<circle cx="521.80" cy="89.00" r="2.75" fill="#000"/>
<circle cx="530.30" cy="89.00" r="2.75" fill="#000"/>
<circle cx="533.60" cy="89.00" r="2.75" fill="#000"/>
<circle cx="508.00" cy="93.80" r="2.75" fill="#000"/>
<circle cx="516.50" cy="93.80" r="2.75" fill="#000"/>
<circle cx="519.50" cy="93.80" r="2.75" fill="#000"/>
<circle cx="536.10" cy="93.80" r="2.75" fill="#000"/>
<circle cx="539.00" cy="93.80" r="2.75" fill="#000"/>
<circle cx="544.80" cy="93.80" r="2.75" fill="#000"/>
<circle cx="510.80" cy="98.90" r="2.75" fill="#000"/>
<circle cx="513.90" cy="98.90" r="2.75" fill="#000"/>
<circle cx="521.80" cy="98.90" r="2.75" fill="#000"/>
<circle cx="525.10" cy="98.90" r="2.75" fill="#000"/>
<circle cx="528.20" cy="98.90" r="2.75" fill="#000"/>
<circle cx="531.30" cy="98.90" r="2.75" fill="#000"/>
<circle cx="535.90" cy="100.00" r="2.75" fill="#000"/>
<circle cx="541.50" cy="98.90" r="2.75" fill="#000"/>
<circle cx="518.50" cy="103.80" r="2.75" fill="#000"/>
<circle cx="536.90" cy="103.80" r="2.75" fill="#000"/>
<circle cx="539.50" cy="103.80" r="2.75" fill="#000"/>
<circle cx="513.40" cy="108.60" r="2.75" fill="#000"/>
<circle cx="521.80" cy="108.60" r="2.75" fill="#000"/>
<circle cx="525.10" cy="108.60" r="2.75" fill="#000"/>
<circle cx="528.20" cy="108.60" r="2.75" fill="#000"/>
<circle cx="531.30" cy="108.60" r="2.75" fill="#000"/>
<circle cx="535.90" cy="108.60" r="2.75" fill="#000"/>
<circle cx="539.50" cy="109.70" r="2.75" fill="#000"/>
<circle cx="516.50" cy="113.80" r="2.75" fill="#000"/>
<circle cx="519.50" cy="113.80" r="2.75" fill="#000"/>
<circle cx="533.60" cy="113.80" r="2.75" fill="#000"/>
<circle cx="535.90" cy="114.80" r="2.75" fill="#000"/>
<circle cx="521.80" cy="117.80" r="2.75" fill="#000"/>
<circle cx="524.60" cy="118.60" r="2.75" fill="#000"/>
<circle cx="530.50" cy="118.60" r="2.75" fill="#000"/>
<circle cx="533.30" cy="123.20" r="2.75" fill="#000"/>
<circle cx="524.60" cy="128.10" r="2.75" fill="#000"/>
<circle cx="527.70" cy="127.80" r="2.75" fill="#000"/>
<circle cx="533.60" cy="130.30" r="2.75" fill="#000"/>
<circle cx="519.50" cy="133.20" r="2.75" fill="#000"/>
<circle cx="522.10" cy="133.40" r="2.75" fill="#000"/>
<circle cx="527.70" cy="134.40" r="2.75" fill="#000"/>
<circle cx="530.80" cy="133.40" r="2.75" fill="#000"/>
<circle cx="524.60" cy="138.30" r="2.75" fill="#000"/>
<circle cx="525.10" cy="144.10" r="2.75" fill="#000"/>
<circle cx="527.70" cy="143.60" r="2.75" fill="#000"/>
<circle cx="526.20" cy="153.00" r="2.75" fill="#000"/>
<circle cx="524.60" cy="162.20" r="2.75" fill="#000"/>
<circle cx="527.70" cy="162.80" r="2.75" fill="#000"/>
<circle cx="526.20" cy="171.20" r="2.75" fill="#000"/>
<line x1="437.20" y1="123.60" x2="489.80" y2="123.60" stroke="#e8242a" stroke-width="1.4" />
<line x1="500.10" y1="103.80" x2="552.20" y2="103.80" stroke="#e8242a" stroke-width="1.4" />
<line x1="195.30" y1="354.00" x2="195.30" y2="376.20" stroke="#666" stroke-width="1.0" />
<line x1="185.30" y1="354.00" x2="205.30" y2="354.00" stroke="#666" stroke-width="1.0" />
<line x1="185.30" y1="376.20" x2="205.30" y2="376.20" stroke="#666" stroke-width="1.0" />
<line x1="258.20" y1="341.90" x2="258.20" y2="361.00" stroke="#444" stroke-width="1.0" />
<line x1="248.20" y1="341.90" x2="268.20" y2="341.90" stroke="#444" stroke-width="1.0" />
<line x1="248.20" y1="361.00" x2="268.20" y2="361.00" stroke="#444" stroke-width="1.0" />
<path d="M198.20 319.90L200.80 322.50L198.20 325.10L195.60 322.50Z" fill="#fff" stroke="#000" stroke-width="1.1"/>
<path d="M203.60 325.00L206.20 327.60L203.60 330.20L201.00 327.60Z" fill="#fff" stroke="#000" stroke-width="1.1"/>
<path d="M192.80 329.70L195.40 332.30L192.80 334.90L190.20 332.30Z" fill="#fff" stroke="#000" stroke-width="1.1"/>
<path d="M198.20 328.40L200.80 331.00L198.20 333.60L195.60 331.00Z" fill="#fff" stroke="#000" stroke-width="1.1"/>
<path d="M203.60 334.50L206.20 337.10L203.60 339.70L201.00 337.10Z" fill="#fff" stroke="#000" stroke-width="1.1"/>
<path d="M182.40 339.60L185.00 342.20L182.40 344.80L179.80 342.20Z" fill="#fff" stroke="#000" stroke-width="1.1"/>
<path d="M187.70 341.10L190.30 343.70L187.70 346.30L185.10 343.70Z" fill="#fff" stroke="#000" stroke-width="1.1"/>
<path d="M193.10 339.60L195.70 342.20L193.10 344.80L190.50 342.20Z" fill="#fff" stroke="#000" stroke-width="1.1"/>
<path d="M208.90 339.60L211.50 342.20L208.90 344.80L206.30 342.20Z" fill="#fff" stroke="#000" stroke-width="1.1"/>
<path d="M198.20 344.70L200.80 347.30L198.20 349.90L195.60 347.30Z" fill="#fff" stroke="#000" stroke-width="1.1"/>
<path d="M203.60 342.70L206.20 345.30L203.60 347.90L201.00 345.30Z" fill="#fff" stroke="#000" stroke-width="1.1"/>
<path d="M177.30 349.30L179.90 351.90L177.30 354.50L174.70 351.90Z" fill="#fff" stroke="#000" stroke-width="1.1"/>
<path d="M182.60 349.30L185.20 351.90L182.60 354.50L180.00 351.90Z" fill="#fff" stroke="#000" stroke-width="1.1"/>
<path d="M188.00 350.80L190.60 353.40L188.00 356.00L185.40 353.40Z" fill="#fff" stroke="#000" stroke-width="1.1"/>
<path d="M214.10 349.30L216.70 351.90L214.10 354.50L211.50 351.90Z" fill="#fff" stroke="#000" stroke-width="1.1"/>
<path d="M208.90 351.50L211.50 354.10L208.90 356.70L206.30 354.10Z" fill="#fff" stroke="#000" stroke-width="1.1"/>
<path d="M193.10 354.20L195.70 356.80L193.10 359.40L190.50 356.80Z" fill="#fff" stroke="#000" stroke-width="1.1"/>
<path d="M198.20 354.20L200.80 356.80L198.20 359.40L195.60 356.80Z" fill="#fff" stroke="#000" stroke-width="1.1"/>
<path d="M203.60 354.20L206.20 356.80L203.60 359.40L201.00 356.80Z" fill="#fff" stroke="#000" stroke-width="1.1"/>
<path d="M187.70 357.50L190.30 360.10L187.70 362.70L185.10 360.10Z" fill="#fff" stroke="#000" stroke-width="1.1"/>
<path d="M190.50 363.10L193.10 365.70L190.50 368.30L187.90 365.70Z" fill="#fff" stroke="#000" stroke-width="1.1"/>
<path d="M195.70 363.60L198.30 366.20L195.70 368.80L193.10 366.20Z" fill="#fff" stroke="#000" stroke-width="1.1"/>
<path d="M201.00 364.10L203.60 366.70L201.00 369.30L198.40 366.70Z" fill="#fff" stroke="#000" stroke-width="1.1"/>
<path d="M177.30 370.10L179.90 372.70L177.30 375.30L174.70 372.70Z" fill="#fff" stroke="#000" stroke-width="1.1"/>
<path d="M182.60 371.60L185.20 374.20L182.60 376.80L180.00 374.20Z" fill="#fff" stroke="#000" stroke-width="1.1"/>
<path d="M188.00 373.60L190.60 376.20L188.00 378.80L185.40 376.20Z" fill="#fff" stroke="#000" stroke-width="1.1"/>
<path d="M198.20 373.60L200.80 376.20L198.20 378.80L195.60 376.20Z" fill="#fff" stroke="#000" stroke-width="1.1"/>
<path d="M203.60 373.60L206.20 376.20L203.60 378.80L201.00 376.20Z" fill="#fff" stroke="#000" stroke-width="1.1"/>
<path d="M177.30 378.70L179.90 381.30L177.30 383.90L174.70 381.30Z" fill="#fff" stroke="#000" stroke-width="1.1"/>
<path d="M182.60 378.70L185.20 381.30L182.60 383.90L180.00 381.30Z" fill="#fff" stroke="#000" stroke-width="1.1"/>
<path d="M187.70 380.30L190.30 382.90L187.70 385.50L185.10 382.90Z" fill="#fff" stroke="#000" stroke-width="1.1"/>
<path d="M193.10 381.60L195.70 384.20L193.10 386.80L190.50 384.20Z" fill="#fff" stroke="#000" stroke-width="1.1"/>
<path d="M198.20 385.10L200.80 387.70L198.20 390.30L195.60 387.70Z" fill="#fff" stroke="#000" stroke-width="1.1"/>
<path d="M203.60 383.90L206.20 386.50L203.60 389.10L201.00 386.50Z" fill="#fff" stroke="#000" stroke-width="1.1"/>
<path d="M208.90 378.70L211.50 381.30L208.90 383.90L206.30 381.30Z" fill="#fff" stroke="#000" stroke-width="1.1"/>
<path d="M214.10 379.00L216.70 381.60L214.10 384.20L211.50 381.60Z" fill="#fff" stroke="#000" stroke-width="1.1"/>
<path d="M193.10 387.70L195.70 390.30L193.10 392.90L190.50 390.30Z" fill="#fff" stroke="#000" stroke-width="1.1"/>
<path d="M187.70 404.10L190.30 406.70L187.70 409.30L185.10 406.70Z" fill="#fff" stroke="#000" stroke-width="1.1"/>
<path d="M198.20 403.10L200.80 405.70L198.20 408.30L195.60 405.70Z" fill="#fff" stroke="#000" stroke-width="1.1"/>
<path d="M193.10 408.20L195.70 410.80L193.10 413.40L190.50 410.80Z" fill="#fff" stroke="#000" stroke-width="1.1"/>
<path d="M193.10 418.10L195.70 420.70L193.10 423.30L190.50 420.70Z" fill="#fff" stroke="#000" stroke-width="1.1"/>
<path d="M198.20 418.10L200.80 420.70L198.20 423.30L195.60 420.70Z" fill="#fff" stroke="#000" stroke-width="1.1"/>
<circle cx="252.10" cy="308.00" r="2.75" fill="#000"/>
<circle cx="258.20" cy="307.70" r="2.75" fill="#000"/>
<circle cx="264.30" cy="312.80" r="2.75" fill="#000"/>
<circle cx="258.20" cy="317.90" r="2.75" fill="#000"/>
<circle cx="252.10" cy="322.50" r="2.75" fill="#000"/>
<circle cx="264.30" cy="322.50" r="2.75" fill="#000"/>
<circle cx="258.20" cy="327.40" r="2.75" fill="#000"/>
<circle cx="264.30" cy="332.50" r="2.75" fill="#000"/>
<circle cx="270.50" cy="332.50" r="2.75" fill="#000"/>
<circle cx="252.10" cy="337.30" r="2.75" fill="#000"/>
<circle cx="258.20" cy="337.30" r="2.75" fill="#000"/>
<circle cx="240.00" cy="341.90" r="2.75" fill="#000"/>
<circle cx="246.20" cy="341.90" r="2.75" fill="#000"/>
<circle cx="264.30" cy="341.90" r="2.75" fill="#000"/>
<circle cx="270.50" cy="341.90" r="2.75" fill="#000"/>
<circle cx="276.60" cy="341.90" r="2.75" fill="#000"/>
<circle cx="258.20" cy="344.10" r="2.75" fill="#000"/>
<circle cx="252.10" cy="347.00" r="2.75" fill="#000"/>
<circle cx="270.50" cy="347.80" r="2.75" fill="#000"/>
<circle cx="246.20" cy="352.10" r="2.75" fill="#000"/>
<circle cx="252.10" cy="352.90" r="2.75" fill="#000"/>
<circle cx="258.20" cy="352.10" r="2.75" fill="#000"/>
<circle cx="264.30" cy="352.10" r="2.75" fill="#000"/>
<circle cx="258.20" cy="357.70" r="2.75" fill="#000"/>
<circle cx="270.50" cy="356.70" r="2.75" fill="#000"/>
<circle cx="252.10" cy="361.00" r="2.75" fill="#000"/>
<circle cx="264.30" cy="361.80" r="2.75" fill="#000"/>
<circle cx="246.20" cy="371.40" r="2.75" fill="#000"/>
<circle cx="252.10" cy="370.70" r="2.75" fill="#000"/>
<circle cx="252.10" cy="376.40" r="2.75" fill="#000"/>
<circle cx="264.30" cy="376.40" r="2.75" fill="#000"/>
<circle cx="270.50" cy="376.40" r="2.75" fill="#000"/>
<circle cx="276.60" cy="373.30" r="2.75" fill="#000"/>
<circle cx="258.20" cy="381.30" r="2.75" fill="#000"/>
<circle cx="255.10" cy="387.10" r="2.75" fill="#000"/>
<circle cx="261.30" cy="386.80" r="2.75" fill="#000"/>
<circle cx="258.20" cy="396.00" r="2.75" fill="#000"/>
<circle cx="258.20" cy="405.80" r="2.75" fill="#000"/>
<line x1="169.60" y1="366.00" x2="221.70" y2="366.00" stroke="#e8242a" stroke-width="1.4" />
<line x1="232.20" y1="349.90" x2="284.30" y2="349.90" stroke="#e8242a" stroke-width="1.4" />
<line x1="464.60" y1="343.80" x2="464.60" y2="411.50" stroke="#888" stroke-width="1.0" />
<line x1="454.40" y1="343.80" x2="474.80" y2="343.80" stroke="#888" stroke-width="1.0" />
<line x1="454.40" y1="411.50" x2="474.80" y2="411.50" stroke="#888" stroke-width="1.0" />
<line x1="527.50" y1="329.30" x2="527.50" y2="348.70" stroke="#555" stroke-width="1.0" />
<line x1="517.30" y1="329.30" x2="537.70" y2="329.30" stroke="#555" stroke-width="1.0" />
<line x1="517.30" y1="348.70" x2="537.70" y2="348.70" stroke="#555" stroke-width="1.0" />
<path d="M464.60 311.90L467.20 314.50L464.60 317.10L462.00 314.50Z" fill="#fff" stroke="#000" stroke-width="1.1"/>
<path d="M458.50 341.20L461.10 343.80L458.50 346.40L455.90 343.80Z" fill="#fff" stroke="#000" stroke-width="1.1"/>
<path d="M470.80 341.20L473.40 343.80L470.80 346.40L468.20 343.80Z" fill="#fff" stroke="#000" stroke-width="1.1"/>
<path d="M458.50 348.10L461.10 350.70L458.50 353.30L455.90 350.70Z" fill="#fff" stroke="#000" stroke-width="1.1"/>
<path d="M446.40 351.20L449.00 353.80L446.40 356.40L443.80 353.80Z" fill="#fff" stroke="#000" stroke-width="1.1"/>
<path d="M470.80 351.20L473.40 353.80L470.80 356.40L468.20 353.80Z" fill="#fff" stroke="#000" stroke-width="1.1"/>
<path d="M483.00 351.20L485.60 353.80L483.00 356.40L480.40 353.80Z" fill="#fff" stroke="#000" stroke-width="1.1"/>
<path d="M458.50 356.30L461.10 358.90L458.50 361.50L455.90 358.90Z" fill="#fff" stroke="#000" stroke-width="1.1"/>
<path d="M446.40 380.60L449.00 383.20L446.40 385.80L443.80 383.20Z" fill="#fff" stroke="#000" stroke-width="1.1"/>
<path d="M458.50 385.70L461.10 388.30L458.50 390.90L455.90 388.30Z" fill="#fff" stroke="#000" stroke-width="1.1"/>
<path d="M470.80 385.70L473.40 388.30L470.80 390.90L468.20 388.30Z" fill="#fff" stroke="#000" stroke-width="1.1"/>
<path d="M458.50 408.90L461.10 411.50L458.50 414.10L455.90 411.50Z" fill="#fff" stroke="#000" stroke-width="1.1"/>
<path d="M470.80 410.20L473.40 412.80L470.80 415.40L468.20 412.80Z" fill="#fff" stroke="#000" stroke-width="1.1"/>
<path d="M464.60 420.40L467.20 423.00L464.60 425.60L462.00 423.00Z" fill="#fff" stroke="#000" stroke-width="1.1"/>
<circle cx="521.40" cy="314.40" r="2.75" fill="#000"/>
<circle cx="533.60" cy="319.30" r="2.75" fill="#000"/>
<circle cx="515.20" cy="324.20" r="2.75" fill="#000"/>
<circle cx="521.40" cy="324.20" r="2.75" fill="#000"/>
<circle cx="527.50" cy="324.20" r="2.75" fill="#000"/>
<circle cx="539.70" cy="324.20" r="2.75" fill="#000"/>
<circle cx="533.60" cy="329.00" r="2.75" fill="#000"/>
<circle cx="509.30" cy="334.10" r="2.75" fill="#000"/>
<circle cx="527.50" cy="334.10" r="2.75" fill="#000"/>
<circle cx="539.70" cy="334.10" r="2.75" fill="#000"/>
<circle cx="545.80" cy="334.10" r="2.75" fill="#000"/>
<circle cx="515.20" cy="338.70" r="2.75" fill="#000"/>
<circle cx="521.40" cy="338.70" r="2.75" fill="#000"/>
<circle cx="533.60" cy="337.70" r="2.75" fill="#000"/>
<circle cx="527.50" cy="343.80" r="2.75" fill="#000"/>
<circle cx="533.60" cy="343.80" r="2.75" fill="#000"/>
<circle cx="515.20" cy="348.90" r="2.75" fill="#000"/>
<circle cx="521.40" cy="348.90" r="2.75" fill="#000"/>
<circle cx="539.70" cy="348.90" r="2.75" fill="#000"/>
<circle cx="527.50" cy="353.80" r="2.75" fill="#000"/>
<circle cx="533.60" cy="353.80" r="2.75" fill="#000"/>
<circle cx="527.50" cy="363.50" r="2.75" fill="#000"/>
<circle cx="527.50" cy="402.00" r="2.75" fill="#000"/>
<circle cx="527.50" cy="411.00" r="2.75" fill="#000"/>
<line x1="438.60" y1="355.60" x2="491.00" y2="355.60" stroke="#e8242a" stroke-width="1.4" />
<line x1="501.10" y1="338.30" x2="553.80" y2="338.30" stroke="#e8242a" stroke-width="1.4" />
<ellipse cx="117.58" cy="614.82" rx="63.33" ry="40.68" transform="rotate(-15.20 117.58 614.82)" fill="none" stroke="#1a1a1a" stroke-width="0.72"/>
<ellipse cx="138.10" cy="594.30" rx="54.57" ry="47.81" transform="rotate(-25.07 138.10 594.30)" fill="none" stroke="#d63a3a" stroke-width="0.72"/>
<circle cx="64.20" cy="595.40" r="1.95" fill="#000"/>
<circle cx="79.30" cy="607.10" r="1.95" fill="#000"/>
<circle cx="94.10" cy="594.80" r="1.95" fill="#000"/>
<circle cx="94.10" cy="596.60" r="1.95" fill="#000"/>
<circle cx="99.70" cy="596.20" r="1.95" fill="#000"/>
<circle cx="94.10" cy="605.90" r="1.95" fill="#000"/>
<circle cx="104.30" cy="586.50" r="1.95" fill="#000"/>
<circle cx="109.20" cy="592.10" r="1.95" fill="#000"/>
<circle cx="74.10" cy="613.00" r="1.95" fill="#000"/>
<circle cx="58.80" cy="613.70" r="1.95" fill="#000"/>
<circle cx="69.00" cy="618.60" r="1.95" fill="#000"/>
<circle cx="99.20" cy="613.00" r="1.95" fill="#000"/>
<circle cx="109.30" cy="621.50" r="1.95" fill="#000"/>
<circle cx="112.80" cy="620.10" r="1.95" fill="#000"/>
<circle cx="95.10" cy="626.00" r="1.95" fill="#000"/>
<circle cx="70.60" cy="631.40" r="1.95" fill="#000"/>
<circle cx="74.30" cy="633.60" r="1.95" fill="#000"/>
<circle cx="78.20" cy="636.70" r="1.95" fill="#000"/>
<circle cx="64.20" cy="636.70" r="1.95" fill="#000"/>
<circle cx="104.30" cy="633.90" r="1.95" fill="#000"/>
<circle cx="109.10" cy="632.10" r="1.95" fill="#000"/>
<circle cx="111.40" cy="631.40" r="1.95" fill="#000"/>
<circle cx="94.10" cy="650.50" r="1.95" fill="#000"/>
<circle cx="94.10" cy="651.80" r="1.95" fill="#000"/>
<circle cx="97.60" cy="650.50" r="1.95" fill="#000"/>
<circle cx="101.20" cy="651.50" r="1.95" fill="#000"/>
<circle cx="102.80" cy="671.90" r="1.95" fill="#000"/>
<circle cx="126.10" cy="580.10" r="1.95" fill="#000"/>
<circle cx="142.70" cy="582.60" r="1.95" fill="#000"/>
<circle cx="139.10" cy="586.20" r="1.95" fill="#000"/>
<circle cx="139.10" cy="588.20" r="1.95" fill="#000"/>
<circle cx="131.50" cy="598.50" r="1.95" fill="#000"/>
<circle cx="119.20" cy="602.00" r="1.95" fill="#000"/>
<circle cx="129.20" cy="600.10" r="1.95" fill="#000"/>
<circle cx="131.70" cy="599.30" r="1.95" fill="#000"/>
<circle cx="132.30" cy="604.00" r="1.95" fill="#000"/>
<circle cx="141.20" cy="603.70" r="1.95" fill="#000"/>
<circle cx="154.10" cy="602.70" r="1.95" fill="#000"/>
<circle cx="164.20" cy="604.70" r="1.95" fill="#000"/>
<circle cx="134.20" cy="610.50" r="1.95" fill="#000"/>
<circle cx="144.20" cy="609.30" r="1.95" fill="#000"/>
<circle cx="120.20" cy="612.40" r="1.95" fill="#000"/>
<circle cx="124.30" cy="614.40" r="1.95" fill="#000"/>
<circle cx="129.20" cy="611.90" r="1.95" fill="#000"/>
<circle cx="129.20" cy="613.40" r="1.95" fill="#000"/>
<circle cx="144.20" cy="615.40" r="1.95" fill="#000"/>
<circle cx="159.30" cy="612.60" r="1.95" fill="#000"/>
<circle cx="129.20" cy="618.70" r="1.95" fill="#000"/>
<circle cx="132.30" cy="618.70" r="1.95" fill="#000"/>
<circle cx="155.80" cy="626.20" r="1.95" fill="#000"/>
<circle cx="129.20" cy="631.30" r="1.95" fill="#000"/>
<circle cx="149.30" cy="633.00" r="1.95" fill="#000"/>
<circle cx="144.20" cy="636.40" r="1.95" fill="#000"/>
<circle cx="169.30" cy="632.00" r="1.95" fill="#000"/>
<circle cx="129.20" cy="650.20" r="1.95" fill="#000"/>
<circle cx="70.60" cy="599.30" r="1.95" fill="#f01616"/>
<circle cx="79.80" cy="601.80" r="1.95" fill="#f01616"/>
<circle cx="89.00" cy="603.40" r="1.95" fill="#f01616"/>
<circle cx="98.70" cy="595.50" r="1.95" fill="#f01616"/>
<circle cx="98.20" cy="600.10" r="1.95" fill="#f01616"/>
<circle cx="107.90" cy="583.10" r="1.95" fill="#f01616"/>
<circle cx="113.50" cy="589.90" r="1.95" fill="#f01616"/>
<circle cx="109.20" cy="566.10" r="1.95" fill="#f01616"/>
<circle cx="109.40" cy="608.50" r="1.95" fill="#f01616"/>
<circle cx="112.50" cy="606.40" r="1.95" fill="#f01616"/>
<circle cx="79.30" cy="611.30" r="1.95" fill="#f01616"/>
<circle cx="104.30" cy="613.70" r="1.95" fill="#f01616"/>
<circle cx="109.10" cy="640.60" r="1.95" fill="#f01616"/>
<circle cx="159.30" cy="548.60" r="1.95" fill="#f01616"/>
<circle cx="134.20" cy="553.30" r="1.95" fill="#f01616"/>
<circle cx="149.30" cy="553.30" r="1.95" fill="#f01616"/>
<circle cx="139.10" cy="562.50" r="1.95" fill="#f01616"/>
<circle cx="149.30" cy="562.50" r="1.95" fill="#f01616"/>
<circle cx="125.10" cy="566.30" r="1.95" fill="#f01616"/>
<circle cx="129.40" cy="565.50" r="1.95" fill="#f01616"/>
<circle cx="154.10" cy="565.30" r="1.95" fill="#f01616"/>
<circle cx="159.30" cy="567.30" r="1.95" fill="#f01616"/>
<circle cx="149.30" cy="569.60" r="1.95" fill="#f01616"/>
<circle cx="169.30" cy="578.50" r="1.95" fill="#f01616"/>
<circle cx="124.50" cy="582.10" r="1.95" fill="#f01616"/>
<circle cx="128.20" cy="581.30" r="1.95" fill="#f01616"/>
<circle cx="139.10" cy="581.90" r="1.95" fill="#f01616"/>
<circle cx="144.20" cy="585.20" r="1.95" fill="#f01616"/>
<circle cx="149.30" cy="581.90" r="1.95" fill="#f01616"/>
<circle cx="159.30" cy="581.40" r="1.95" fill="#f01616"/>
<circle cx="164.20" cy="585.70" r="1.95" fill="#f01616"/>
<circle cx="134.20" cy="588.00" r="1.95" fill="#f01616"/>
<circle cx="129.20" cy="589.50" r="1.95" fill="#f01616"/>
<circle cx="114.60" cy="589.30" r="1.95" fill="#f01616"/>
<circle cx="139.10" cy="591.30" r="1.95" fill="#f01616"/>
<circle cx="149.30" cy="589.50" r="1.95" fill="#f01616"/>
<circle cx="145.30" cy="594.20" r="1.95" fill="#f01616"/>
<circle cx="149.30" cy="595.90" r="1.95" fill="#f01616"/>
<circle cx="144.20" cy="598.30" r="1.95" fill="#f01616"/>
<circle cx="154.10" cy="598.00" r="1.95" fill="#f01616"/>
<circle cx="159.30" cy="595.40" r="1.95" fill="#f01616"/>
<circle cx="164.20" cy="591.80" r="1.95" fill="#f01616"/>
<circle cx="169.30" cy="591.80" r="1.95" fill="#f01616"/>
<circle cx="178.70" cy="595.40" r="1.95" fill="#f01616"/>
<circle cx="144.20" cy="605.20" r="1.95" fill="#f01616"/>
<circle cx="174.20" cy="604.40" r="1.95" fill="#f01616"/>
<circle cx="119.20" cy="605.40" r="1.95" fill="#f01616"/>
<circle cx="129.20" cy="608.50" r="1.95" fill="#f01616"/>
<circle cx="134.20" cy="607.10" r="1.95" fill="#f01616"/>
<circle cx="134.20" cy="613.90" r="1.95" fill="#f01616"/>
<circle cx="134.20" cy="615.40" r="1.95" fill="#f01616"/>
<circle cx="138.60" cy="614.40" r="1.95" fill="#f01616"/>
<circle cx="144.20" cy="613.90" r="1.95" fill="#f01616"/>
<circle cx="179.00" cy="612.40" r="1.95" fill="#f01616"/>
<circle cx="142.20" cy="618.70" r="1.95" fill="#f01616"/>
<circle cx="144.50" cy="619.50" r="1.95" fill="#f01616"/>
<circle cx="134.20" cy="634.00" r="1.95" fill="#f01616"/>
<circle cx="159.30" cy="634.00" r="1.95" fill="#f01616"/>
<circle cx="164.20" cy="636.70" r="1.95" fill="#f01616"/>
<circle cx="133.30" cy="639.50" r="1.95" fill="#f01616"/>
<circle cx="154.10" cy="657.50" r="1.95" fill="#f01616"/>
<ellipse cx="346.31" cy="617.35" rx="60.00" ry="38.55" transform="rotate(-24.13 346.31 617.35)" fill="none" stroke="#1a1a1a" stroke-width="0.72"/>
<ellipse cx="360.24" cy="599.72" rx="57.51" ry="54.33" transform="rotate(-10.88 360.24 599.72)" fill="none" stroke="#d63a3a" stroke-width="0.72"/>
<circle cx="330.10" cy="588.00" r="1.95" fill="#000"/>
<circle cx="335.10" cy="593.60" r="1.95" fill="#000"/>
<circle cx="290.20" cy="596.90" r="1.95" fill="#000"/>
<circle cx="305.30" cy="608.70" r="1.95" fill="#000"/>
<circle cx="325.20" cy="614.80" r="1.95" fill="#000"/>
<circle cx="334.90" cy="623.30" r="1.95" fill="#000"/>
<circle cx="338.30" cy="621.70" r="1.95" fill="#000"/>
<circle cx="320.90" cy="627.40" r="1.95" fill="#000"/>
<circle cx="300.10" cy="635.30" r="1.95" fill="#000"/>
<circle cx="304.20" cy="638.30" r="1.95" fill="#000"/>
<circle cx="290.20" cy="638.30" r="1.95" fill="#000"/>
<circle cx="330.10" cy="635.80" r="1.95" fill="#000"/>
<circle cx="335.10" cy="633.50" r="1.95" fill="#000"/>
<circle cx="337.40" cy="632.70" r="1.95" fill="#000"/>
<circle cx="323.30" cy="651.90" r="1.95" fill="#000"/>
<circle cx="327.00" cy="653.10" r="1.95" fill="#000"/>
<circle cx="328.40" cy="673.50" r="1.95" fill="#000"/>
<circle cx="351.90" cy="581.90" r="1.95" fill="#000"/>
<circle cx="368.20" cy="584.20" r="1.95" fill="#000"/>
<circle cx="364.80" cy="590.80" r="1.95" fill="#000"/>
<circle cx="345.00" cy="603.40" r="1.95" fill="#000"/>
<circle cx="354.90" cy="602.20" r="1.95" fill="#000"/>
<circle cx="357.50" cy="601.10" r="1.95" fill="#000"/>
<circle cx="366.90" cy="605.20" r="1.95" fill="#000"/>
<circle cx="379.80" cy="604.50" r="1.95" fill="#000"/>
<circle cx="389.70" cy="606.40" r="1.95" fill="#000"/>
<circle cx="345.00" cy="607.80" r="1.95" fill="#000"/>
<circle cx="346.00" cy="613.90" r="1.95" fill="#000"/>
<circle cx="360.00" cy="612.20" r="1.95" fill="#000"/>
<circle cx="370.00" cy="610.80" r="1.95" fill="#000"/>
<circle cx="370.00" cy="617.00" r="1.95" fill="#000"/>
<circle cx="384.90" cy="614.20" r="1.95" fill="#000"/>
<circle cx="354.90" cy="620.30" r="1.95" fill="#000"/>
<circle cx="358.00" cy="620.30" r="1.95" fill="#000"/>
<circle cx="381.50" cy="627.90" r="1.95" fill="#000"/>
<circle cx="374.90" cy="634.60" r="1.95" fill="#000"/>
<circle cx="370.00" cy="638.40" r="1.95" fill="#000"/>
<circle cx="354.90" cy="651.70" r="1.95" fill="#000"/>
<circle cx="335.10" cy="567.80" r="1.95" fill="#f01616"/>
<circle cx="339.80" cy="590.60" r="1.95" fill="#f01616"/>
<circle cx="339.80" cy="592.20" r="1.95" fill="#f01616"/>
<circle cx="324.70" cy="597.00" r="1.95" fill="#f01616"/>
<circle cx="324.00" cy="601.80" r="1.95" fill="#f01616"/>
<circle cx="315.00" cy="604.90" r="1.95" fill="#f01616"/>
<circle cx="335.40" cy="609.50" r="1.95" fill="#f01616"/>
<circle cx="338.00" cy="608.30" r="1.95" fill="#f01616"/>
<circle cx="305.30" cy="613.10" r="1.95" fill="#f01616"/>
<circle cx="330.10" cy="615.30" r="1.95" fill="#f01616"/>
<circle cx="335.10" cy="642.10" r="1.95" fill="#f01616"/>
<circle cx="360.00" cy="555.00" r="1.95" fill="#f01616"/>
<circle cx="364.80" cy="564.00" r="1.95" fill="#f01616"/>
<circle cx="350.80" cy="568.10" r="1.95" fill="#f01616"/>
<circle cx="380.00" cy="566.80" r="1.95" fill="#f01616"/>
<circle cx="384.90" cy="569.00" r="1.95" fill="#f01616"/>
<circle cx="374.90" cy="571.40" r="1.95" fill="#f01616"/>
<circle cx="349.80" cy="584.20" r="1.95" fill="#f01616"/>
<circle cx="353.90" cy="583.10" r="1.95" fill="#f01616"/>
<circle cx="369.90" cy="586.20" r="1.95" fill="#f01616"/>
<circle cx="354.90" cy="591.30" r="1.95" fill="#f01616"/>
<circle cx="390.00" cy="587.20" r="1.95" fill="#f01616"/>
<circle cx="394.80" cy="593.90" r="1.95" fill="#f01616"/>
<circle cx="374.90" cy="597.40" r="1.95" fill="#f01616"/>
<circle cx="370.00" cy="599.90" r="1.95" fill="#f01616"/>
<circle cx="370.00" cy="601.60" r="1.95" fill="#f01616"/>
<circle cx="404.50" cy="597.40" r="1.95" fill="#f01616"/>
<circle cx="370.00" cy="606.80" r="1.95" fill="#f01616"/>
<circle cx="399.60" cy="605.70" r="1.95" fill="#f01616"/>
<circle cx="360.00" cy="615.90" r="1.95" fill="#f01616"/>
<circle cx="364.10" cy="616.30" r="1.95" fill="#f01616"/>
<circle cx="404.00" cy="614.20" r="1.95" fill="#f01616"/>
<circle cx="367.70" cy="620.30" r="1.95" fill="#f01616"/>
<circle cx="370.00" cy="621.40" r="1.95" fill="#f01616"/>
<circle cx="360.00" cy="635.90" r="1.95" fill="#f01616"/>
<circle cx="389.70" cy="638.40" r="1.95" fill="#f01616"/>
<circle cx="358.70" cy="641.00" r="1.95" fill="#f01616"/>
<circle cx="379.80" cy="659.40" r="1.95" fill="#f01616"/>
<ellipse cx="587.44" cy="617.28" rx="70.27" ry="46.27" transform="rotate(-27.16 587.44 617.28)" fill="none" stroke="#1a1a1a" stroke-width="0.72"/>
<ellipse cx="613.05" cy="591.34" rx="46.46" ry="33.42" transform="rotate(-64.84 613.05 591.34)" fill="none" stroke="#d63a3a" stroke-width="0.72"/>
<circle cx="540.40" cy="615.30" r="1.95" fill="#000"/>
<circle cx="549.40" cy="620.40" r="1.95" fill="#000"/>
<circle cx="550.40" cy="632.90" r="1.95" fill="#000"/>
<circle cx="570.60" cy="652.10" r="1.95" fill="#000"/>
<circle cx="570.60" cy="653.60" r="1.95" fill="#000"/>
<circle cx="608.70" cy="588.00" r="1.95" fill="#000"/>
<circle cx="574.70" cy="598.00" r="1.95" fill="#000"/>
<circle cx="602.80" cy="605.20" r="1.95" fill="#000"/>
<circle cx="600.30" cy="613.30" r="1.95" fill="#000"/>
<circle cx="600.30" cy="614.80" r="1.95" fill="#000"/>
<circle cx="596.00" cy="616.10" r="1.95" fill="#000"/>
<circle cx="600.30" cy="632.90" r="1.95" fill="#000"/>
<circle cx="634.00" cy="633.70" r="1.95" fill="#000"/>
<circle cx="550.60" cy="601.10" r="1.95" fill="#f01616"/>
<circle cx="558.50" cy="603.60" r="1.95" fill="#f01616"/>
<circle cx="625.80" cy="550.20" r="1.95" fill="#f01616"/>
<circle cx="617.30" cy="555.10" r="1.95" fill="#f01616"/>
<circle cx="617.30" cy="564.00" r="1.95" fill="#f01616"/>
<circle cx="600.30" cy="567.10" r="1.95" fill="#f01616"/>
<circle cx="634.00" cy="580.10" r="1.95" fill="#f01616"/>
<circle cx="608.70" cy="583.40" r="1.95" fill="#f01616"/>
<circle cx="617.30" cy="583.40" r="1.95" fill="#f01616"/>
<circle cx="625.80" cy="582.90" r="1.95" fill="#f01616"/>
<circle cx="613.00" cy="587.20" r="1.95" fill="#f01616"/>
<circle cx="604.30" cy="589.60" r="1.95" fill="#f01616"/>
<circle cx="608.70" cy="593.10" r="1.95" fill="#f01616"/>
<circle cx="617.30" cy="591.10" r="1.95" fill="#f01616"/>
<circle cx="613.80" cy="595.70" r="1.95" fill="#f01616"/>
<circle cx="629.90" cy="593.60" r="1.95" fill="#f01616"/>
<circle cx="625.80" cy="597.20" r="1.95" fill="#f01616"/>
<circle cx="621.70" cy="599.80" r="1.95" fill="#f01616"/>
<circle cx="591.80" cy="606.90" r="1.95" fill="#f01616"/>
<circle cx="604.60" cy="609.00" r="1.95" fill="#f01616"/>
<circle cx="600.30" cy="610.20" r="1.95" fill="#f01616"/>
<circle cx="604.60" cy="617.20" r="1.95" fill="#f01616"/>
<circle cx="613.00" cy="615.80" r="1.95" fill="#f01616"/>
<circle cx="625.80" cy="635.80" r="1.95" fill="#f01616"/>
</svg></body></html>
